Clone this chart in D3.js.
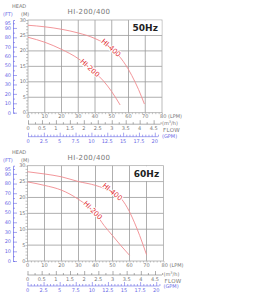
<!DOCTYPE html>
<html>
<head>
<meta charset="utf-8">
<script src="https://cdn.jsdelivr.net/npm/d3@7"></script>
<style>
  body { margin: 0; background: #fff; }
  svg text { font-family: "DejaVu Sans", Arial, sans-serif; }
</style>
</head>
<body>
<div id="chart"></div>
<script>
// Pump curve data: [flow LPM, head m]
const hi400_50 = [[0, 28.3], [10, 27.8], [20, 27.0], [30, 25.8], [40, 24.0], [50, 20.8], [57, 16.5], [62, 12.0], [66, 7.5], [69.5, 2.8]];
const hi200_50 = [[0, 24.4], [10, 22.8], [20, 20.5], [30, 17.5], [40, 13.0], [45, 10.3], [50, 6.8], [55, 2.5]];
const hi400_60 = [[0, 28.1], [10, 27.4], [20, 26.5], [30, 25.0], [40, 23.8], [50, 21.6], [55, 19.7], [60, 15.5], [63, 12.0], [66, 8.0], [70, 2.0]];
const hi200_60 = [[0, 24.9], [10, 23.8], [20, 22.3], [30, 19.4], [40, 15.0], [45, 11.2], [50, 8.0], [55, 4.8], [60, 1.8]];

const headTicks = [0, 5, 10, 15, 20, 25, 30];
const ftTicks = [0, 10, 20, 30, 40, 50, 60, 70, 80, 90, 95];
const lpmTicks = [0, 10, 20, 30, 40, 50, 60, 70];
const m3hTicks = [0, 0.5, 1, 1.5, 2, 2.5, 3, 3.5, 4, 4.5];
const gpmTicks = [0, 2.5, 5, 7.5, 10, 12.5, 15, 17.5, 20];

const width = 270, height = 300;
const svg = d3.select("#chart").append("svg")
  .attr("width", width)
  .attr("height", height);

const red = "#f08a8f", labelRed = "#e0262c", blue = "#6a6ae6", grid = "#9a9a9a", txt = "#777";

function drawPanel(p) {
  const g = svg.append("g");
  const x = d3.scaleLinear().domain([0, 80]).range([p.x0, p.x1]);
  const y = d3.scaleLinear().domain([0, 30]).range([p.y0, p.y1]);
  const ft = d3.scaleLinear().domain([0, 30 * 3.28084]).range([p.y0, p.y1]);

  // header
  g.append("text").attr("x", 12).attr("y", p.y1 - 12).attr("font-size", 5).attr("fill", txt).text("HEAD");
  g.append("text").attr("x", 3).attr("y", p.y1 - 4).attr("font-size", 5).attr("fill", blue).text("(FT)");
  g.append("text").attr("x", 21).attr("y", p.y1 - 4).attr("font-size", 5).attr("fill", txt).text("(M)");
  g.append("text").attr("x", 89).attr("y", p.y1 - 6).attr("font-size", 7).attr("text-anchor", "middle")
    .attr("fill", txt).attr("letter-spacing", 0.4).text("HI-200/400");

  // grid
  g.append("g").selectAll("line").data(d3.range(10, 80, 10)).join("line")
    .attr("x1", d => x(d)).attr("x2", d => x(d)).attr("y1", p.y0).attr("y2", p.y1)
    .attr("stroke", grid).attr("stroke-width", 0.8);
  g.append("g").selectAll("line").data(d3.range(5, 30, 5)).join("line")
    .attr("x1", p.x0).attr("x2", p.x1).attr("y1", d => y(d)).attr("y2", d => y(d))
    .attr("stroke", grid).attr("stroke-width", 0.8);
  g.append("rect").attr("x", p.x0).attr("y", p.y1).attr("width", p.x1 - p.x0).attr("height", p.y0 - p.y1)
    .attr("fill", "none").attr("stroke", "#aaa").attr("stroke-width", 0.8);

  // frequency box in the top right cell
  g.append("rect").attr("x", x(60) + 0.5).attr("y", y(30) + 0.5)
    .attr("width", x(80) - x(60) - 1).attr("height", y(25) - y(30) - 1).attr("fill", "#fff");
  g.append("text").attr("x", (x(60) + x(80)) / 2).attr("y", (y(25) + y(30)) / 2 + 3)
    .attr("text-anchor", "middle").attr("font-size", 9).attr("font-weight", "bold").attr("fill", "#222")
    .text(p.hz);

  // head axis (m)
  g.append("g").attr("transform", `translate(${p.x0},0)`)
    .call(d3.axisLeft(y).tickValues(d3.range(0, 31, 1)).tickSize(2).tickFormat(""))
    .call(a => a.select(".domain").remove())
    .call(a => a.selectAll("line").attr("stroke", "#888").attr("stroke-width", 0.5));
  g.append("g").selectAll("text").data(headTicks).join("text")
    .attr("x", p.x0 - 2).attr("y", d => y(d) + 1.5).attr("text-anchor", "end")
    .attr("font-size", 5).attr("fill", txt).text(d => d);

  // head axis (ft)
  const fa = g.append("g").attr("transform", "translate(13,0)")
    .call(d3.axisRight(ft).tickValues(d3.range(0, 100, 5)).tickSize(2).tickFormat(""));
  fa.select(".domain").attr("stroke", blue).attr("stroke-width", 0.7);
  fa.selectAll("line").attr("stroke", blue).attr("stroke-width", 0.6)
    .attr("x2", d => d % 10 === 0 ? 4 : 2);
  g.append("g").selectAll("text").data(ftTicks).join("text")
    .attr("x", 11).attr("y", d => ft(d) + 1.8).attr("text-anchor", "end")
    .attr("font-size", 5).attr("fill", blue).text(d => d);

  // flow axis (LPM)
  g.append("g").attr("transform", `translate(0,${p.y0})`)
    .call(d3.axisBottom(x).tickValues(d3.range(0, 81, 2)).tickSize(1.5).tickFormat(""))
    .call(a => a.select(".domain").remove())
    .call(a => a.selectAll("line").attr("stroke", "#888").attr("stroke-width", 0.5));
  g.append("g").selectAll("text").data(lpmTicks).join("text")
    .attr("x", d => x(d)).attr("y", p.y0 + 5.5).attr("text-anchor", "middle")
    .attr("font-size", 5).attr("fill", txt).text(d => d);
  g.append("text").attr("x", x(80) - 2).attr("y", p.y0 + 5.5).attr("font-size", 5).attr("fill", txt).text("80 (LPM)");

  // flow axis (m3/h)
  const m3 = d3.scaleLinear().domain([0, 4.8]).range([x(0), x(80)]);
  const ma = g.append("g").attr("transform", `translate(0,${p.y0 + p.m3dy})`)
    .call(d3.axisTop(m3).tickValues(d3.range(0, 4.76, 0.25)).tickSize(2).tickFormat(""));
  ma.select(".domain").attr("stroke", "#777").attr("stroke-width", 0.6).attr("d", `M${x(0)},0H${m3(4.75)}`);
  ma.selectAll("line").attr("stroke", "#777").attr("stroke-width", 0.6)
    .attr("y2", d => Math.round(d * 100) % 50 === 0 ? -4 : -2);
  g.append("g").selectAll("text").data(m3hTicks).join("text")
    .attr("x", d => m3(d)).attr("y", p.y0 + p.m3dy + 6).attr("text-anchor", "middle")
    .attr("font-size", 5).attr("fill", txt).text(d => d);
  g.append("text").attr("x", x(80)).attr("y", p.y0 + p.m3dy + 1).attr("font-size", 5).attr("fill", txt)
    .html("(m<tspan dy='-2' font-size='3.5'>3</tspan><tspan dy='2'>/h)</tspan>");
  g.append("text").attr("x", x(80) + 1).attr("y", p.y0 + p.m3dy + 8).attr("font-size", 5.5).attr("fill", txt)
    .attr("letter-spacing", 0.3).text("FLOW");

  // flow axis (GPM)
  const gpm = d3.scaleLinear().domain([0, 80 / 3.78541]).range([x(0), x(80)]);
  const ga = g.append("g").attr("transform", `translate(0,${p.y0 + p.gdy})`)
    .call(d3.axisTop(gpm).tickValues(d3.range(0, 20.6, 0.5)).tickSize(2).tickFormat(""));
  ga.select(".domain").attr("stroke", blue).attr("stroke-width", 0.6).attr("d", `M${x(0)},0H${gpm(20.5)}`);
  ga.selectAll("line").attr("stroke", blue).attr("stroke-width", 0.6)
    .attr("y2", d => Math.round(d * 10) % 25 === 0 ? -4 : -2);
  g.append("g").selectAll("text").data(gpmTicks).join("text")
    .attr("x", d => gpm(d)).attr("y", p.y0 + p.gdy + 6).attr("text-anchor", "middle")
    .attr("font-size", 5).attr("fill", blue).text(d => d);
  g.append("text").attr("x", x(80)).attr("y", p.y0 + p.gdy + 1.5).attr("font-size", 5).attr("fill", blue).text("(GPM)");

  // curves
  const line = d3.line().x(d => x(d[0])).y(d => y(d[1])).curve(d3.curveMonotoneX);
  [p.a, p.b].forEach(s => {
    g.append("path").datum(s).attr("d", line)
      .attr("fill", "none").attr("stroke", red).attr("stroke-width", 0.9);
  });
  // labels sit on the curves with a white halo
  p.labels.forEach(l => {
    g.append("text")
      .attr("transform", `translate(${x(l.q)},${y(l.h)}) rotate(${l.rot})`)
      .attr("text-anchor", "middle").attr("dy", "0.35em")
      .attr("font-size", 7).attr("fill", labelRed)
      .attr("stroke", "#fff").attr("stroke-width", 2).attr("paint-order", "stroke")
      .text(l.name);
  });
}

drawPanel({
  hz: "50Hz", x0: 28, x1: 162, y0: 112.7, y1: 20, m3dy: 11.5, gdy: 24,
  a: hi400_50, b: hi200_50,
  labels: [{ name: "HI-400", q: 49.6, h: 21.0, rot: 41 }, { name: "HI-200", q: 37, h: 14.5, rot: 42 }]
});
drawPanel({
  hz: "60Hz", x0: 27.5, x1: 163.5, y0: 261, y1: 165.7, m3dy: 14, gdy: 25,
  a: hi400_60, b: hi200_60,
  labels: [{ name: "HI-400", q: 50, h: 21.8, rot: 40 }, { name: "HI-200", q: 38.5, h: 16.0, rot: 45 }]
});
</script>
</body>
</html>
